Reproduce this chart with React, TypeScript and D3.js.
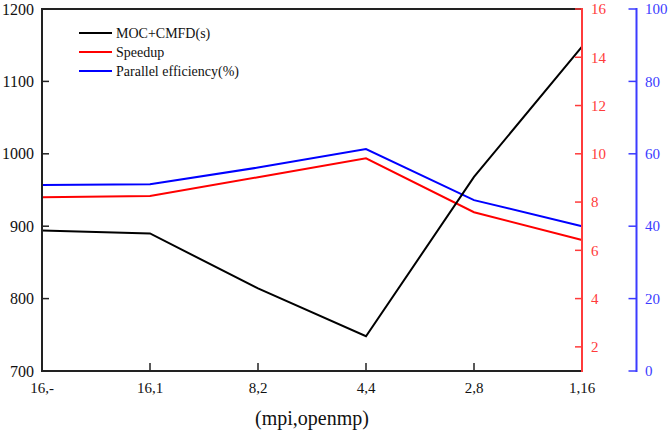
import React from "react";
import * as d3 from "d3";

const categories = ["16,-", "16,1", "8,2", "4,4", "2,8", "1,16"];
const timeValues = [894, 890, 814, 748, 968, 1148];
const speedupValues = [8.2, 8.25, 9.03, 9.81, 7.58, 6.43];
const efficiencyValues = [51.4, 51.6, 56.2, 61.3, 47.2, 40.0];
const leftTicks = [700, 800, 900, 1000, 1100, 1200];
const redTicks = [2, 4, 6, 8, 10, 12, 14, 16];
const blueTicks = [0, 20, 40, 60, 80, 100];
const legendLabels = ["MOC+CMFD(s)", "Speedup", "Parallel efficiency(%)"];

const W = 671;
const H = 431;
const L = 42;
const R = 582;
const T = 9;
const B = 371;
const BLUE_X = 636.5;
const FONT = "Liberation Serif, Tinos, Times New Roman, DejaVu Serif, serif";
const AXIS = "#222";
const RED = "#ff0000";
const BLUE = "#0000ff";
const RED_AX = "#ff3b3b";
const BLUE_AX = "#3b3bff";

export default function App() {
  const x = d3.scalePoint<string>().domain(categories).range([L, R]);
  const yL = d3.scaleLinear().domain([700, 1200]).range([B, T]);
  const yR = d3.scaleLinear().domain([1, 16]).range([B, T]);
  const yB = d3.scaleLinear().domain([0, 100]).range([B, T]);

  const lineL = d3.line<number>().x((_, i) => x(categories[i])!).y((d) => yL(d));
  const lineR = d3.line<number>().x((_, i) => x(categories[i])!).y((d) => yR(d));
  const lineB = d3.line<number>().x((_, i) => x(categories[i])!).y((d) => yB(d));

  const legendColors = ["#000", RED, BLUE];
  const ts = { fontFamily: FONT };

  return (
    <svg
      width={W}
      height={H}
      style={{ position: "absolute", left: 0, top: 0, background: "#fff", fontFamily: FONT }}
    >
      <path d={lineB(efficiencyValues)!} fill="none" stroke={BLUE} strokeWidth={2} />
      <path d={lineR(speedupValues)!} fill="none" stroke={RED} strokeWidth={2} />
      <path d={lineL(timeValues)!} fill="none" stroke="#000" strokeWidth={2} />

      <line x1={L} x2={R} y1={T} y2={T} stroke={AXIS} strokeWidth={2} />
      <line x1={L} x2={R} y1={B} y2={B} stroke={AXIS} strokeWidth={2} />
      <line x1={L} x2={L} y1={T - 1} y2={B + 1} stroke={AXIS} strokeWidth={2} />
      {leftTicks.map((t) => (
        <g key={t}>
          <line x1={L} x2={L + 7} y1={yL(t)} y2={yL(t)} stroke={AXIS} strokeWidth={1.5} />
          <text x={34} y={yL(t)} dy="0.35em" textAnchor="end" fontSize={16} fill="#111" style={ts}>
            {t}
          </text>
        </g>
      ))}
      {categories.map((c) => (
        <g key={c}>
          <line x1={x(c)!} x2={x(c)!} y1={B} y2={B - 8} stroke={AXIS} strokeWidth={1.5} />
          <text x={x(c)!} y={393} textAnchor="middle" fontSize={15} fill="#111" style={ts}>
            {c}
          </text>
        </g>
      ))}
      <text x={(L + R) / 2} y={425} textAnchor="middle" fontSize={20} fill="#111" style={ts}>
        (mpi,openmp)
      </text>

      <line x1={R} x2={R} y1={T - 1} y2={B + 1} stroke={RED_AX} strokeWidth={2} />
      {redTicks.map((t) => (
        <g key={t}>
          <line x1={R - 7} x2={R} y1={yR(t)} y2={yR(t)} stroke={RED_AX} strokeWidth={1.5} />
          <text x={591} y={yR(t)} dy="0.35em" textAnchor="start" fontSize={15} fill={RED_AX} style={ts}>
            {t}
          </text>
        </g>
      ))}

      <line x1={BLUE_X} x2={BLUE_X} y1={T - 1} y2={B + 1} stroke={BLUE_AX} strokeWidth={2} />
      {blueTicks.map((t) => (
        <g key={t}>
          <line x1={BLUE_X - 8} x2={BLUE_X} y1={yB(t)} y2={yB(t)} stroke={BLUE_AX} strokeWidth={1.5} />
          <text x={645} y={yB(t)} dy="0.35em" textAnchor="start" fontSize={15} fill={BLUE_AX} style={ts}>
            {t}
          </text>
        </g>
      ))}

      {legendLabels.map((lab, i) => (
        <g key={lab}>
          <line x1={79} x2={112} y1={33 + i * 19} y2={33 + i * 19} stroke={legendColors[i]} strokeWidth={2} />
          <text x={116} y={33 + i * 19} dy="0.35em" fontSize={14} fill="#111" style={ts}>
            {lab}
          </text>
        </g>
      ))}
    </svg>
  );
}
